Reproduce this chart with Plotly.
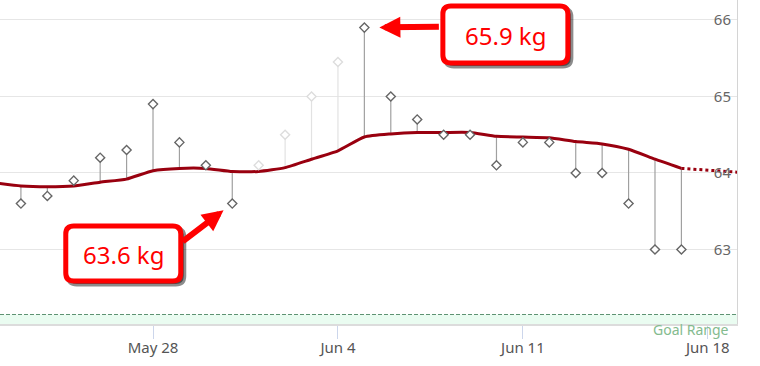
import plotly.graph_objects as go
import pandas as pd

# ---- data ----
weigh_dates = pd.date_range("2017-05-23", "2017-06-17", freq="D")
weights = [63.6, 63.7, 63.9, 64.2, 64.3, 64.9, 64.4, 64.1, 63.6, 64.1, 64.5, 65.0, 65.45,
           65.9, 65.0, 64.7, 64.5, 64.5, 64.1, 64.4, 64.4, 64.0, 64.0, 63.6, 63.0, 63.0]
faded = [False] * 9 + [True] * 4 + [False] * 13

trend_dates = pd.date_range("2017-05-22", "2017-06-17", freq="D")
trend = [63.87, 63.83, 63.82, 63.83, 63.88, 63.92, 64.03, 64.06, 64.06, 64.02, 64.02, 64.07,
         64.18, 64.29, 64.47, 64.51, 64.53, 64.53, 64.53, 64.48, 64.47, 64.46, 64.41, 64.38,
         64.31, 64.18, 64.06]
forecast_dates = ["2017-06-17", "2017-06-20"]
forecast = [64.06, 63.99]

goal_upper = 62.15
y_ticks = [63, 64, 65, 66]
x_tick_start = "2017-05-28"

callouts = [  # (date, weight label)
    ("2017-05-31", 63.6),
    ("2017-06-05", 65.9),
]

FONT = "Noto Sans"
RED = "#ff0000"
trend_map = dict(zip(trend_dates.strftime("%Y-%m-%d"), trend))

fig = go.Figure()

# goal range band
fig.add_shape(type="rect", xref="paper", x0=0, x1=1, yref="y", y0=61.5, y1=goal_upper,
              fillcolor="#eafcf1", line_width=0, layer="below")
fig.add_shape(type="line", xref="paper", x0=0, x1=1, yref="y", y0=goal_upper, y1=goal_upper,
              line=dict(color="#5e9373", width=1.2, dash="4px,2px"), layer="below")

# stems
for fade in (True, False):
    sx, sy = [], []
    for d, w, f in zip(weigh_dates, weights, faded):
        if f != fade:
            continue
        t = trend_map[d.strftime("%Y-%m-%d")]
        sx += [d, d, None]
        sy += [t, w, None]
    fig.add_trace(go.Scatter(x=sx, y=sy, mode="lines", hoverinfo="skip",
                             line=dict(color="#e2e2e2" if fade else "#a0a0a0", width=1.2),
                             showlegend=False))

# trend
fig.add_trace(go.Scatter(x=trend_dates, y=trend, mode="lines",
                         line=dict(color="#99000f", width=3, shape="spline", smoothing=0.5),
                         showlegend=False))
fig.add_trace(go.Scatter(x=forecast_dates, y=forecast, mode="lines",
                         line=dict(color="#99000f", width=3, dash="dot"), showlegend=False))

# diamonds
for fade in (True, False):
    xs = [d for d, f in zip(weigh_dates, faded) if f == fade]
    ys = [w for w, f in zip(weights, faded) if f == fade]
    fig.add_trace(go.Scatter(x=xs, y=ys, mode="markers", showlegend=False,
                             marker=dict(symbol="diamond", size=7, color="white",
                                         line=dict(color="#dddddd" if fade else "#666666", width=1.4))))


def rrect(x0, x1, y0, y1, r=8):
    # rounded rectangle path in pixel coords (y up)
    top, bot = max(y0, y1), min(y0, y1)
    return (f"M{x0+r},{top} L{x1-r},{top} Q{x1},{top} {x1},{top-r} "
            f"L{x1},{bot+r} Q{x1},{bot} {x1-r},{bot} L{x0+r},{bot} "
            f"Q{x0},{bot} {x0},{bot+r} L{x0},{top-r} Q{x0},{top} {x0+r},{top} Z")


# box geometry relative to the point (pixels): x0, x1, y0, y1 (y up), arrow tail ax, ay (down), standoff
geo = [
    (-166.5, -51.5, -22.5, -77.5, -51, 39, 11),
    (78.5, 203.5, 21.5, -35.5, 76, -1, 15),
]
for (d, w), (bx0, bx1, by0, by1, ax, ay, so) in zip(callouts, geo):
    # arrow
    fig.add_annotation(x=d, y=w, text="", showarrow=True, ax=ax, ay=ay, axref="pixel", ayref="pixel",
                       arrowhead=2, arrowwidth=6, arrowsize=0.7, arrowcolor=RED, standoff=so)
    # shadow
    fig.add_shape(type="path", xref="x", yref="y", xsizemode="pixel", ysizemode="pixel",
                  xanchor=d, yanchor=w, path=rrect(bx0 + 3, bx1 + 3, by0 - 3, by1 - 3),
                  fillcolor="rgba(0,0,0,0.45)", line=dict(color="rgba(0,0,0,0.45)", width=5),
                  layer="above")
    fig.add_shape(type="path", xref="x", yref="y", xsizemode="pixel", ysizemode="pixel",
                  xanchor=d, yanchor=w, path=rrect(bx0, bx1, by0, by1),
                  fillcolor="white", line=dict(color=RED, width=5), layer="above")
    fig.add_annotation(x=d, y=w, text=f"{w} kg", showarrow=False,
                       xshift=(bx0 + bx1) / 2, yshift=(by0 + by1) / 2 - 1,
                       font=dict(family=FONT, size=24, color=RED))

fig.add_annotation(xref="paper", yref="paper", x=1, y=0, xanchor="right", yanchor="middle",
                   xshift=-6, yshift=-5, text="Goal Range", showarrow=False,
                   font=dict(family=FONT, size=14, color="#84bb8e"))

fig.update_layout(
    width=760, height=366,
    margin=dict(l=0, r=23, t=0, b=42, autoexpand=False),
    paper_bgcolor="white", plot_bgcolor="white",
    font=dict(family=FONT, size=15, color="#666666"),
    xaxis=dict(range=["2017-05-22 05:00", "2017-06-19 02:30"], tick0=x_tick_start,
               dtick=7 * 86400000, tickformat="%b %-d", ticks="outside", ticklen=13,
               tickcolor="#ccd6eb", showgrid=False, showline=True, linecolor="#dcdcdc",
               linewidth=2, zeroline=False, tickfont=dict(color="#555555", size=15),
               automargin=False, ticklabelstandoff=-4),
    yaxis=dict(range=[62.026, 66.261], side="right", tickvals=y_ticks,
               ticklabelposition="inside", showgrid=True, gridcolor="#e6e6e6",
               showline=True, linecolor="#d4d4d4", zeroline=False, ticks="",
               tickfont=dict(color="#666666", size=15), automargin=False,
               ticklabelstandoff=6),
)

fig.write_html("out.html", config={"displayModeBar": False},
               post_script="document.body.style.margin='0';document.body.style.overflow='hidden';")
